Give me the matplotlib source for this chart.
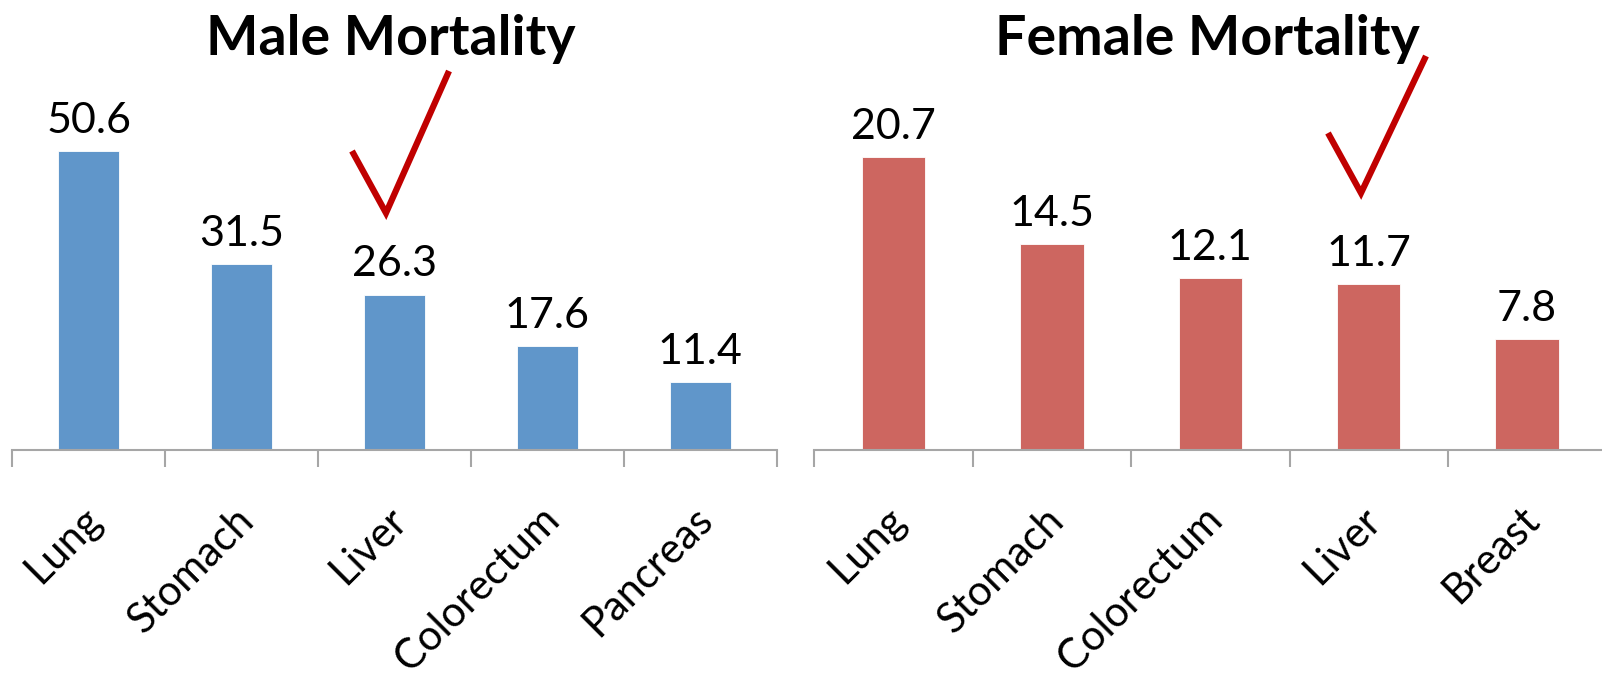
import matplotlib
matplotlib.use('Agg')
import matplotlib.pyplot as plt
from matplotlib.lines import Line2D
from matplotlib.transforms import ScaledTranslation

plt.rcParams['font.family'] = ['Lato', 'DejaVu Sans']

male_sites = ['Lung', 'Stomach', 'Liver', 'Colorectum', 'Pancreas']
male_rates = [50.6, 31.5, 26.3, 17.6, 11.4]
female_sites = ['Lung', 'Stomach', 'Colorectum', 'Liver', 'Breast']
female_rates = [20.7, 14.5, 12.1, 11.7, 7.8]

W, H = 1602, 686
fig = plt.figure(figsize=(W / 100, H / 100), dpi=100)
axis_grey = '#A6A6A6'


def panel(rect, sites, rates, color, ymax):
    ax = fig.add_axes(rect)
    x = list(range(len(sites)))
    bars = ax.bar(x, rates, width=0.4, color=color, edgecolor='white', linewidth=0.6)
    ax.bar_label(bars, fmt='%.1f', padding=8, fontsize=31)
    ax.set_xlim(-0.5, len(sites) - 0.5)
    ax.set_ylim(0, ymax)
    for s in ['top', 'right', 'left']:
        ax.spines[s].set_visible(False)
    ax.spines['bottom'].set_color(axis_grey)
    ax.spines['bottom'].set_linewidth(1.5)
    ax.set_yticks([])
    # ticks sit on the category boundaries, labels drawn separately
    ax.set_xticks([i - 0.5 for i in range(len(sites) + 1)])
    ax.set_xticklabels([])
    ax.tick_params(axis='x', direction='out', length=12, width=1.5, color=axis_grey)
    off = ScaledTranslation(0.06, -0.64, fig.dpi_scale_trans)
    for i, s in enumerate(sites):
        ax.text(i, 0, s, transform=ax.get_xaxis_transform() + off, rotation=45,
                ha='right', va='center', rotation_mode='anchor', fontsize=30)
    return ax


bottom = 1 - 449.5 / H
height = (449.5 - 96) / H
panel([12.3 / W, bottom, 764.2 / W, height], male_sites, male_rates, '#6096CA', 60)
panel([814.3 / W, bottom, 792 / W, height], female_sites, female_rates, '#CD6660', 25)

fig.text(391 / W, 1 - 39 / H, 'Male Mortality', ha='center', va='center',
         fontsize=40, fontweight='bold')
fig.text(1207 / W, 1 - 39 / H, 'Female Mortality', ha='center', va='center',
         fontsize=40, fontweight='bold')

# red check marks
for pts in ([(352, 151), (386, 213), (449, 71)], [(1328, 133), (1361, 193), (1426, 56)]):
    xs = [p[0] / W for p in pts]
    ys = [1 - p[1] / H for p in pts]
    fig.add_artist(Line2D(xs, ys, transform=fig.transFigure, color='#C00000',
                          linewidth=4.5, solid_joinstyle='miter', solid_capstyle='butt'))

fig.savefig('out.png', dpi=100)
